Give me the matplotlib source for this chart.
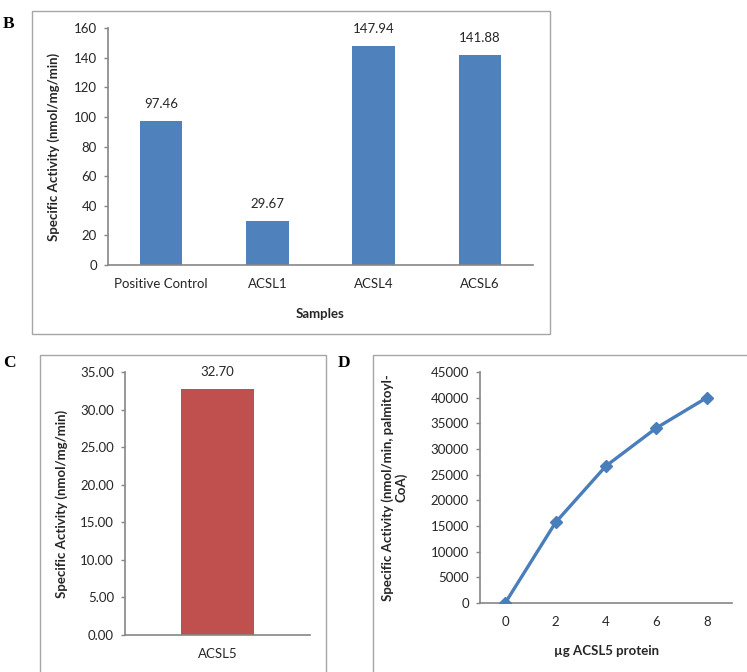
import matplotlib
matplotlib.use("Agg")
import matplotlib.pyplot as plt
from matplotlib.patches import Rectangle

plt.rcParams['font.family'] = ['Lato', 'DejaVu Sans']

# Data
b_categories = ["Positive Control", "ACSL1", "ACSL4", "ACSL6"]
b_values = [97.46, 29.67, 147.94, 141.88]
b_yticks = [0, 20, 40, 60, 80, 100, 120, 140, 160]

c_categories = ["ACSL5"]
c_values = [32.70]
c_yticks = [0, 5, 10, 15, 20, 25, 30, 35]

d_x_labels = ["0", "2", "4", "6", "8"]
d_values = [0, 15700, 26700, 34100, 40000]
d_yticks = [0, 5000, 10000, 15000, 20000, 25000, 30000, 35000, 40000, 45000]

W, H = 747, 672
fig = plt.figure(figsize=(W / 100, H / 100), dpi=100)


def rect(x0, y0, x1, y1):
    return [x0 / W, 1 - y1 / H, (x1 - x0) / W, (y1 - y0) / H]


def frame(x0, y0, x1, y1):
    fig.patches.append(Rectangle((x0 / W, 1 - y1 / H), (x1 - x0) / W, (y1 - y0) / H,
                                 transform=fig.transFigure, fill=False,
                                 edgecolor="#a6a6a6", linewidth=1.0))


AX_COL = "#868686"
TXT = "#262626"
FS = 9.5


def style(ax):
    for s in ["top", "right"]:
        ax.spines[s].set_visible(False)
    for s in ["left", "bottom"]:
        ax.spines[s].set_color(AX_COL)
        ax.spines[s].set_linewidth(1.2)
    ax.tick_params(axis="y", length=3, width=1, color=AX_COL, labelsize=FS,
                   labelcolor=TXT, pad=5)
    ax.tick_params(axis="x", length=0, labelsize=FS, labelcolor=TXT, pad=9)


# Frames
frame(32, 11, 550, 334)
frame(40, 355, 326, 700)
frame(373, 355, 780, 700)

# Panel letters
for lbl, x, y in [("B", 3, 28), ("C", 3, 367), ("D", 338, 367)]:
    fig.text(x / W, 1 - y / H, lbl, family="Liberation Serif", weight="bold",
             fontsize=12.5, ha="left", va="baseline")

# Panel B
axB = fig.add_axes(rect(108, 28, 533, 265))
xb = list(range(len(b_categories)))
axB.bar(xb, b_values, width=0.4, color="#4F81BD")
axB.set_xlim(-0.5, len(b_categories) - 0.5)
axB.set_ylim(0, 160)
axB.set_yticks(b_yticks)
axB.set_xticks(xb)
axB.set_xticklabels(b_categories)
style(axB)
for x, v in zip(xb, b_values):
    axB.annotate(f"{v:.2f}", (x, v), xytext=(0, 8), textcoords="offset points",
                 ha="center", va="bottom", fontsize=FS, color=TXT)
axB.set_xlabel("Samples", fontsize=FS, weight="bold", color=TXT)
axB.xaxis.set_label_coords(0.5, -0.18)
axB.set_ylabel("Specific Activity (nmol/mg/min)", fontsize=FS, weight="bold", color=TXT)
axB.yaxis.set_label_coords((60 - 108) / 425, 0.5)

# Panel C
axC = fig.add_axes(rect(125, 372, 310, 635))
xc = list(range(len(c_categories)))
axC.bar(xc, c_values, width=0.39, color="#C0504D")
axC.set_xlim(-0.5, 0.5)
axC.set_ylim(0, 35)
axC.set_yticks(c_yticks)
axC.set_yticklabels([f"{t:.2f}" for t in c_yticks])
axC.set_xticks(xc)
axC.set_xticklabels(c_categories)
style(axC)
for x, v in zip(xc, c_values):
    axC.annotate(f"{v:.2f}", (x, v), xytext=(0, 8), textcoords="offset points",
                 ha="center", va="bottom", fontsize=FS, color=TXT)
axC.set_ylabel("Specific Activity (nmol/mg/min)", fontsize=FS, weight="bold", color=TXT)
axC.yaxis.set_label_coords((68 - 125) / 185, 0.5)

# Panel D
axD = fig.add_axes(rect(480, 372, 732, 603))
xd = list(range(len(d_x_labels)))
axD.plot(xd, d_values, color="#4A7EBB", linewidth=2.4, marker="D", markersize=6.5,
         markerfacecolor="#4A7EBB", markeredgecolor="#4A7EBB")
axD.set_xlim(-0.5, len(d_x_labels) - 0.5)
axD.set_ylim(0, 45000)
axD.set_yticks(d_yticks)
axD.set_xticks(xd)
axD.set_xticklabels(d_x_labels)
style(axD)
for sp in axD.spines.values():
    sp.set_zorder(0)
axD.set_xlabel("µg ACSL5 protein", fontsize=FS, weight="bold", color=TXT)
axD.xaxis.set_label_coords(0.5, -0.18)
axD.set_ylabel("Specific Activity (nmol/min, palmitoyl-\nCoA)", fontsize=FS,
               weight="bold", color=TXT, linespacing=1.0)
axD.yaxis.set_label_coords((407 - 480) / 252, 0.5)

fig.savefig("out.png", dpi=100)
